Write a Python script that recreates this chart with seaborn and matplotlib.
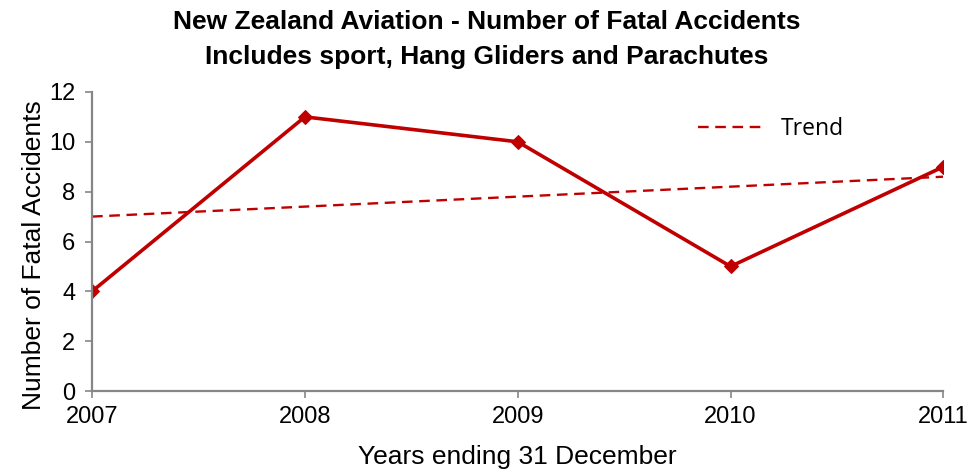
import numpy as np
import pandas as pd
import seaborn as sns
import matplotlib.pyplot as plt

# Data
years = [2007, 2008, 2009, 2010, 2011]
accidents = [4, 11, 10, 5, 9]

df = pd.DataFrame({"Year": years, "Accidents": accidents})

red = "#C00000"
grey = "#868686"

sns.set_style("white")
plt.rcParams["font.family"] = ["Liberation Sans", "DejaVu Sans"]
plt.rcParams["text.color"] = "black"
plt.rcParams["axes.labelcolor"] = "black"

fig = plt.figure(figsize=(9.73, 4.74), dpi=100)
ax = fig.add_axes([0.0946, 0.175, 0.875, 0.631])

# Linear trend (like Excel's trendline)
sns.regplot(data=df, x="Year", y="Accidents", ax=ax, scatter=False, ci=None,
            truncate=True, line_kws=dict(color=red, lw=1.7, ls=(0, (4.5, 2.8))))
trend_line = ax.lines[0]

sns.lineplot(data=df, x="Year", y="Accidents", ax=ax, color=red, lw=2.6,
             marker="D", markersize=7, markeredgecolor=red)

ax.set_xlim(2007, 2011)
ax.set_ylim(0, 12)
ax.set_xticks(years)
ax.set_yticks(range(0, 13, 2))
ax.tick_params(axis="both", labelsize=17, colors=grey, labelcolor="black",
               direction="out", length=5, width=1.2, bottom=True, left=True)
ax.tick_params(axis="x", pad=6)
ax.tick_params(axis="y", pad=7)
for side in ["top", "right"]:
    ax.spines[side].set_visible(False)
for side in ["left", "bottom"]:
    ax.spines[side].set_color(grey)
    ax.spines[side].set_linewidth(1.6)

ax.set_xlabel("Years ending 31 December", fontsize=19, labelpad=12)
ax.set_ylabel("Number of Fatal Accidents", fontsize=19)
ax.yaxis.set_label_coords(-0.054, 0.455)

fig.text(0.5, 0.954, "New Zealand Aviation - Number of Fatal Accidents",
         ha="center", va="center", fontsize=19, fontweight="bold")
fig.text(0.5, 0.88, "Includes sport, Hang Gliders and Parachutes",
         ha="center", va="center", fontsize=19, fontweight="bold")

ax.legend([trend_line], ["Trend"], loc="upper left", bbox_to_anchor=(0.688, 0.985),
          frameon=False, prop={"family": "Open Sans", "size": 16.5},
          handlelength=3.0, handletextpad=0.6)

fig.savefig("out.png", dpi=100)
